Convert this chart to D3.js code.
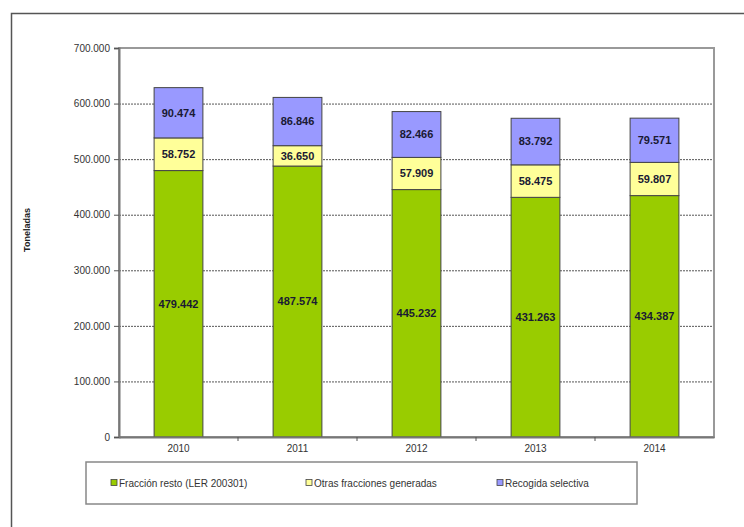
<!DOCTYPE html>
<html>
<head>
<meta charset="utf-8">
<script src="https://cdn.jsdelivr.net/npm/d3@7"></script>
<style>
  body { margin: 0; background: #fff; }
  svg { display: block; font-family: "Liberation Sans", Arial, sans-serif; }
</style>
</head>
<body>
<div id="chart"></div>
<script>
// data
var years = ["2010", "2011", "2012", "2013", "2014"];
var fraccionResto = [479442, 487574, 445232, 431263, 434387];
var otrasFracciones = [58752, 36650, 57909, 58475, 59807];
var recogidaSelectiva = [90474, 86846, 82466, 83792, 79571];
var seriesNames = ["Fracción resto (LER 200301)", "Otras fracciones generadas", "Recogida selectiva"];
var yTicks = [0, 100000, 200000, 300000, 400000, 500000, 600000, 700000];

var colors = ["#99cc00", "#ffff99", "#9999ff"];

var W = 744, H = 527;
var m = {top: 48, right: 30, bottom: 90, left: 119};
var w = 714 - m.left, h = 437 - m.top;

var svg = d3.select("#chart").append("svg")
    .attr("width", W)
    .attr("height", H);

// outer frame (cut off on right/bottom)
svg.append("path")
    .attr("d", "M11.5," + H + "V13.5H" + W)
    .attr("fill", "none")
    .attr("stroke", "#555")
    .attr("stroke-width", 1.5);

var g = svg.append("g")
    .attr("transform", "translate(" + m.left + "," + m.top + ")");

var x = d3.scaleBand().domain(years).range([0, w]).paddingInner(0.59).paddingOuter(0.295);
var y = d3.scaleLinear().domain([0, 700000]).range([h, 0]);

var fmt = function(v) { return d3.format(",")(v).replace(/,/g, "."); };

// gridlines
g.selectAll(".grid")
  .data(yTicks.slice(1, -1))
  .enter().append("line")
    .attr("x1", 0).attr("x2", w)
    .attr("y1", function(d) { return y(d) + 0.5; })
    .attr("y2", function(d) { return y(d) + 0.5; })
    .attr("stroke", "#555")
    .attr("stroke-dasharray", "2,1");

// plot frame
g.append("rect")
    .attr("x", 0).attr("y", 0)
    .attr("width", w).attr("height", h)
    .attr("fill", "none")
    .attr("stroke", "#999")
    .attr("stroke-width", 2);

// stacked data
var table = years.map(function(yr, i) {
  return {year: yr, a: fraccionResto[i], b: otrasFracciones[i], c: recogidaSelectiva[i]};
});
var stack = d3.stack().keys(["a", "b", "c"]);
var layers = stack(table);

var layer = g.selectAll(".layer")
  .data(layers)
  .enter().append("g")
    .attr("fill", function(d, i) { return colors[i]; });

layer.selectAll("rect")
  .data(function(d) { return d; })
  .enter().append("rect")
    .attr("x", function(d) { return x(d.data.year); })
    .attr("y", function(d) { return y(d[1]); })
    .attr("width", x.bandwidth())
    .attr("height", function(d) { return y(d[0]) - y(d[1]); })
    .attr("stroke", "#444")
    .attr("stroke-width", 1);

layer.selectAll("text")
  .data(function(d) { return d; })
  .enter().append("text")
    .attr("x", function(d) { return x(d.data.year) + x.bandwidth() / 2; })
    .attr("y", function(d) { return (y(d[0]) + y(d[1])) / 2; })
    .attr("dy", "0.35em")
    .attr("text-anchor", "middle")
    .attr("fill", "#1a1a33")
    .attr("font-size", 11)
    .attr("font-weight", "bold")
    .text(function(d) { return fmt(d[1] - d[0]); });

// y axis
var yAxis = g.append("g")
    .call(d3.axisLeft(y).tickValues(yTicks).tickSize(5).tickFormat(fmt));
yAxis.select(".domain").attr("stroke", "#777").attr("stroke-width", 2);
yAxis.selectAll(".tick line").attr("stroke", "#555");
yAxis.selectAll(".tick text").attr("font-size", 10).attr("fill", "#333").attr("x", -9)
    .attr("font-family", "Liberation Sans, Arial, sans-serif");

// x axis
var xAxis = g.append("g")
    .attr("transform", "translate(0," + h + ")")
    .call(d3.axisBottom(x).tickSize(0).tickPadding(8));
xAxis.select(".domain").attr("stroke", "#777").attr("stroke-width", 2);
xAxis.selectAll(".tick text").attr("font-size", 10).attr("fill", "#333")
    .attr("font-family", "Liberation Sans, Arial, sans-serif");

// small ticks between categories
g.selectAll(".xtick")
  .data(years.slice(1))
  .enter().append("line")
    .attr("x1", function(d) { return x(d) - x.step() * x.paddingInner() / 2; })
    .attr("x2", function(d) { return x(d) - x.step() * x.paddingInner() / 2; })
    .attr("y1", h).attr("y2", h + 4)
    .attr("stroke", "#555");

// y label
svg.append("text")
    .attr("transform", "translate(30,230) rotate(-90)")
    .attr("text-anchor", "middle")
    .attr("font-size", 9)
    .attr("font-weight", "bold")
    .attr("fill", "#222")
    .text("Toneladas");

// legend
var lg = svg.append("g");
lg.append("rect")
    .attr("x", 86).attr("y", 462)
    .attr("width", 551).attr("height", 42)
    .attr("fill", "#fff")
    .attr("stroke", "#888")
    .attr("stroke-width", 1.5);

var legendX = [111, 306, 497];
var item = lg.selectAll(".item")
  .data(seriesNames)
  .enter().append("g")
    .attr("transform", function(d, i) { return "translate(" + legendX[i] + ",483)"; });
item.append("rect")
    .attr("x", 0).attr("y", -3.5)
    .attr("width", 6).attr("height", 6)
    .attr("fill", function(d, i) { return colors[i]; })
    .attr("stroke", "#444")
    .attr("stroke-width", 0.8);
item.append("text")
    .attr("x", 8).attr("dy", "0.35em")
    .attr("font-size", 10)
    .attr("fill", "#333")
    .text(function(d) { return d; });
</script>
</body>
</html>
